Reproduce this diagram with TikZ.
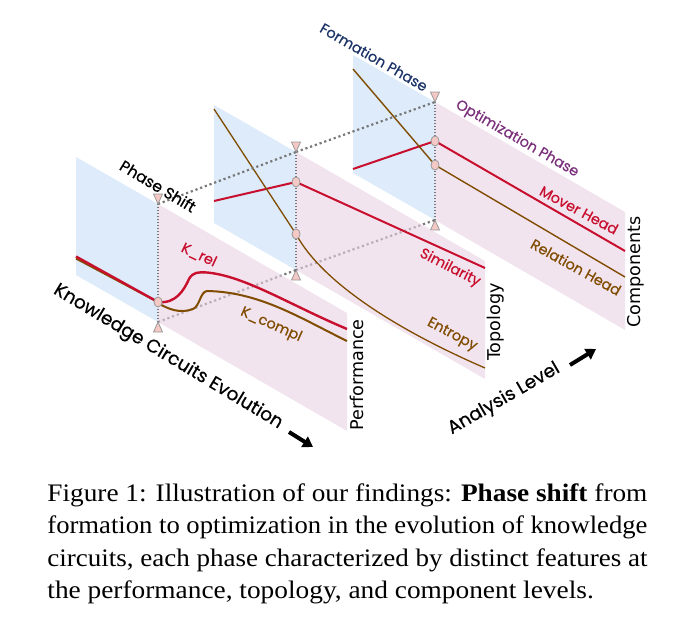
\documentclass[tikz,border=0pt]{standalone}
\usepackage{fontspec}
\setmainfont{Liberation Serif}[FakeStretch=1.085]
\newfontfamily\handfont{Poppins}[FakeBold=0.5]
\newfontfamily\axisfont{DejaVu Sans}
\usetikzlibrary{shapes.geometric,arrows.meta}
\definecolor{formblue}{RGB}{198,222,247}
\definecolor{optpink}{RGB}{233,210,228}
\definecolor{relred}{RGB}{200,16,46}
\definecolor{complbrown}{RGB}{128,76,0}
\definecolor{formtext}{RGB}{28,52,104}
\definecolor{opttext}{RGB}{122,48,122}
\definecolor{markfill}{RGB}{244,200,196}
\definecolor{shiftgray}{RGB}{120,120,120}

\begin{document}
\begin{tikzpicture}[x=0.5pt,y=-0.5pt,
	formbg/.style={fill=formblue,fill opacity=0.6},
	optbg/.style={fill=optpink,fill opacity=0.6},
	redline/.style={relred,line width=1pt},
	brownline/.style={complbrown,line width=0.65pt},
	shiftline/.style={shiftgray,line width=1.1pt,dash pattern=on 1.1pt off 1.4pt},
	phaseline/.style={shiftgray,line width=0.6pt,dash pattern=on 0.6pt off 0.9pt},
	marker/.style={fill=markfill,draw=gray!80,line width=0.4pt},
	dot/.style={ellipse,fill=markfill,draw=gray!80,line width=0.4pt,minimum width=4pt,minimum height=5pt,inner sep=0pt},
	hand/.style={font=\handfont\fontsize{7.2}{8}\selectfont,inner sep=0pt},
	bighand/.style={font=\handfont\fontsize{9.2}{10}\selectfont,inner sep=0pt},
	axis/.style={font=\axisfont\fontsize{8.8}{10}\selectfont,inner sep=0pt},
	bigarrow/.style={line width=2pt,-{Triangle[length=5pt,width=6pt]}},
	caption/.style={anchor=base west,inner sep=0pt,font=\fontsize{12.6}{16}\selectfont}]
	\useasboundingbox (0,0) rectangle (700,621);

	\coordinate (p1t) at (158,204); \coordinate (p1b) at (158,322);
	\coordinate (p2t) at (296,152); \coordinate (p2b) at (296,270);
	\coordinate (p3t) at (435,102); \coordinate (p3b) at (435,220);

	\path[formbg] (353,55) -- (p3t) -- (p3b) -- (353,173) -- cycle;
	\path[optbg] (p3t) -- (625,212) -- (625,330) -- (p3b) -- cycle;
	\draw[redline] (353,169) -- (435,141) -- (625,251);
	\draw[brownline,line width=0.7pt] (353,69) -- (435,165) -- (625,277);
	\draw[phaseline] (p3b) -- (p3t);
	\filldraw[marker] (p3t) -- ++(-4.5,-10) -- ++(9,0) -- cycle;
	\filldraw[marker] (p3b) -- ++(-4.5,10) -- ++(9,0) -- cycle;
	\node[dot] (c3r) at (435,141) {};
	\node[dot] (c3b) at (435,165) {};
	\node[hand,formtext,rotate=-30] (formation) at (374,57) {Formation Phase};
	\node[hand,opttext,rotate=-30] (optimization) at (517,139) {Optimization Phase};
	\node[hand,relred,rotate=-28] (mover) at (579,210) {Mover Head};
	\node[hand,complbrown,rotate=-29] (relation) at (576,267) {Relation Head};
	\node[axis,rotate=90] (components) at (636,272) {Components};

	\draw[shiftline] (p2t) -- (p3t);
	\draw[shiftline] (p2b) -- (p3b);

	\path[formbg] (214,105) -- (p2t) -- (p2b) -- (214,223) -- cycle;
	\path[optbg] (p2t) -- (485,261) -- (485,379) -- (p2b) -- cycle;
	\draw[redline] (214,201) -- (296,182) -- (485,268);
	\draw[brownline] (214,109) -- (296,234) .. controls (315,270) and (370,318) .. (485,368);
	\draw[phaseline] (p2b) -- (p2t);
	\filldraw[marker] (p2t) -- ++(-4.5,-10) -- ++(9,0) -- cycle;
	\filldraw[marker] (p2b) -- ++(-4.5,10) -- ++(9,0) -- cycle;
	\node[dot] (c2r) at (296,182) {};
	\node[dot] (c2b) at (296,234) {};
	\node[hand,relred,rotate=-27] (similarity) at (450,268) {Similarity};
	\node[hand,complbrown,rotate=-28] (entropy) at (452,335) {Entropy};
	\node[axis,rotate=90] (topology) at (496,322) {Topology};

	\draw[shiftline] (p1t) -- (p2t);
	\draw[shiftline] (p1b) -- (p2b);

	\path[formbg] (76,157) -- (p1t) -- (p1b) -- (76,275) -- cycle;
	\path[optbg] (p1t) -- (347,313) -- (347,431) -- (p1b) -- cycle;
	\draw[brownline,line width=1pt] (76,258.5) -- (158,302);
	\draw[redline,line width=1.2pt] (76,256.5) -- (158,302);
	\draw[redline,line width=1.2pt] (158,302) .. controls (176,304) and (184,290) .. (189,279)
		.. controls (193,272) and (198,272) .. (207,272.5) .. controls (245,276) and (290,305) .. (347,329);
	\draw[brownline,line width=1pt] (158,303) .. controls (168,309) and (180,314) .. (193,309)
		.. controls (200,306) and (200,292) .. (207,291) .. controls (260,292) and (300,318) .. (347,341);
	\draw[phaseline] (p1b) -- (p1t);
	\filldraw[marker] (p1t) -- ++(-4.5,-10) -- ++(9,0) -- cycle;
	\filldraw[marker] (p1b) -- ++(-4.5,10) -- ++(9,0) -- cycle;
	\node[dot] (c1) at (158,302) {};
	\node[hand,relred,rotate=-25] (krel) at (199,255) {K\_rel};
	\node[hand,complbrown,rotate=-24] (kcompl) at (271,325) {K\_compl};
	\node[hand,font=\handfont\fontsize{7.8}{9}\selectfont,rotate=-31] (shift) at (158,186) {Phase Shift};
	\node[axis,rotate=90] (performance) at (357,375) {Performance};

	\node[bighand,rotate=-31] (evolution) at (168,357) {Knowledge Circuits Evolution};
	\coordinate (evofrom) at (289,432); \coordinate (evoto) at (313,447);
	\draw[bigarrow] (evofrom) -- (evoto);
	\node[bighand,rotate=30] (level) at (504,399) {Analysis Level};
	\coordinate (levelfrom) at (570,365); \coordinate (levelto) at (596,349);
	\draw[bigarrow] (levelfrom) -- (levelto);

	\node[caption] (cap1) at (47,501) {\resizebox{300pt}{\height}{Figure 1: Illustration of our findings: \textbf{Phase shift} from}};
	\node[caption] (cap2) at (47,533.5) {\resizebox{300pt}{\height}{formation to optimization in the evolution of knowledge}};
	\node[caption] (cap3) at (47,566) {\resizebox{300pt}{\height}{circuits, each phase characterized by distinct features at}};
	\node[caption] (cap4) at (47,598.5) {the performance, topology, and component levels.};
\end{tikzpicture}
\end{document}
